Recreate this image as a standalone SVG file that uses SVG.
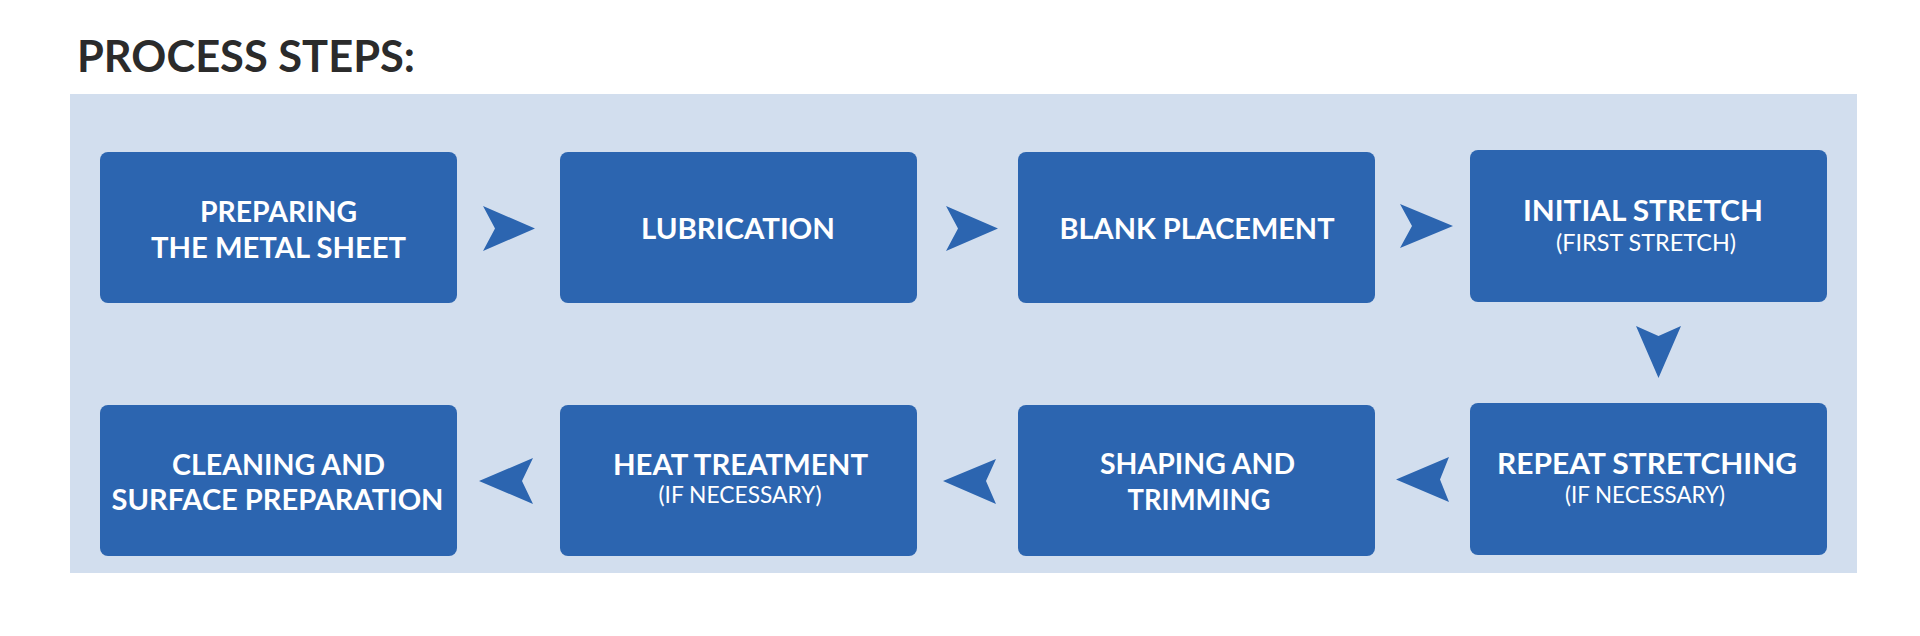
<svg xmlns="http://www.w3.org/2000/svg" width="1920" height="636" viewBox="0 0 1920 636">
<style>
.box{fill:#2c65b0}
.t{font-family:Lato,"Source Sans Pro","Noto Sans",sans-serif;font-weight:700;font-size:28px;fill:#ffffff;text-anchor:middle}
.s{font-family:Lato,"Source Sans Pro","Noto Sans",sans-serif;font-weight:400;font-size:23px;fill:#ffffff;text-anchor:middle}
.arr{fill:#2c65b0}
.title{font-family:Lato,"Source Sans Pro","Noto Sans",sans-serif;font-weight:700;font-size:44px;fill:#2b2b2b}
</style>
<rect width="1920" height="636" fill="#ffffff"/>
<text class="title" x="77" y="72" textLength="338" lengthAdjust="spacingAndGlyphs">PROCESS STEPS:</text>
<rect x="70" y="94" width="1787" height="479" fill="#d2deee"/>
<g id="connectors">
<polygon class="arr" points="483,206 535,228.5 483,251 495,228.5"/>
<polygon class="arr" points="946,206 998,228.5 946,251 958,228.5"/>
<polygon class="arr" points="1400,204 1453,226 1400,248 1412,226"/>
<polygon class="arr" points="1636,326 1658.5,336 1681,326 1658.5,378"/>
<polygon class="arr" points="1449,457 1396,479.5 1449,502 1440,479.5"/>
<polygon class="arr" points="996,459 943,481 996,504 986,481"/>
<polygon class="arr" points="533,458 479,481 533,504 522,481"/>
</g>
<g id="n1">
<rect class="box" x="100" y="152" width="357" height="151" rx="8"/>
<text class="t" x="278.5" y="222" textLength="157" lengthAdjust="spacingAndGlyphs">PREPARING</text>
<text class="t" x="278.5" y="258" textLength="255" lengthAdjust="spacingAndGlyphs">THE METAL SHEET</text>
</g>
<g id="n2">
<rect class="box" x="560" y="152" width="357" height="151" rx="8"/>
<text class="t" x="738" y="239" textLength="194" lengthAdjust="spacingAndGlyphs">LUBRICATION</text>
</g>
<g id="n3">
<rect class="box" x="1018" y="152" width="357" height="151" rx="8"/>
<text class="t" x="1197" y="239" textLength="275" lengthAdjust="spacingAndGlyphs">BLANK PLACEMENT</text>
</g>
<g id="n4">
<rect class="box" x="1470" y="150" width="357" height="152" rx="8"/>
<text class="t" x="1643" y="221" textLength="240" lengthAdjust="spacingAndGlyphs">INITIAL STRETCH</text>
<text class="s" x="1646" y="251" textLength="180" lengthAdjust="spacingAndGlyphs">(FIRST STRETCH)</text>
</g>
<g id="n5">
<rect class="box" x="1470" y="403" width="357" height="152" rx="8"/>
<text class="t" x="1647" y="474" textLength="300" lengthAdjust="spacingAndGlyphs">REPEAT STRETCHING</text>
<text class="s" x="1645" y="503" textLength="160" lengthAdjust="spacingAndGlyphs">(IF NECESSARY)</text>
</g>
<g id="n6">
<rect class="box" x="1018" y="405" width="357" height="151" rx="8"/>
<text class="t" x="1197.5" y="474" textLength="195" lengthAdjust="spacingAndGlyphs">SHAPING AND</text>
<text class="t" x="1199" y="510" textLength="143" lengthAdjust="spacingAndGlyphs">TRIMMING</text>
</g>
<g id="n7">
<rect class="box" x="560" y="405" width="357" height="151" rx="8"/>
<text class="t" x="740.5" y="475" textLength="255" lengthAdjust="spacingAndGlyphs">HEAT TREATMENT</text>
<text class="s" x="740" y="503" textLength="163" lengthAdjust="spacingAndGlyphs">(IF NECESSARY)</text>
</g>
<g id="n8">
<rect class="box" x="100" y="405" width="357" height="151" rx="8"/>
<text class="t" x="278.5" y="475" textLength="213" lengthAdjust="spacingAndGlyphs">CLEANING AND</text>
<text class="t" x="277.5" y="510" textLength="332" lengthAdjust="spacingAndGlyphs">SURFACE PREPARATION</text>
</g>
</svg>
